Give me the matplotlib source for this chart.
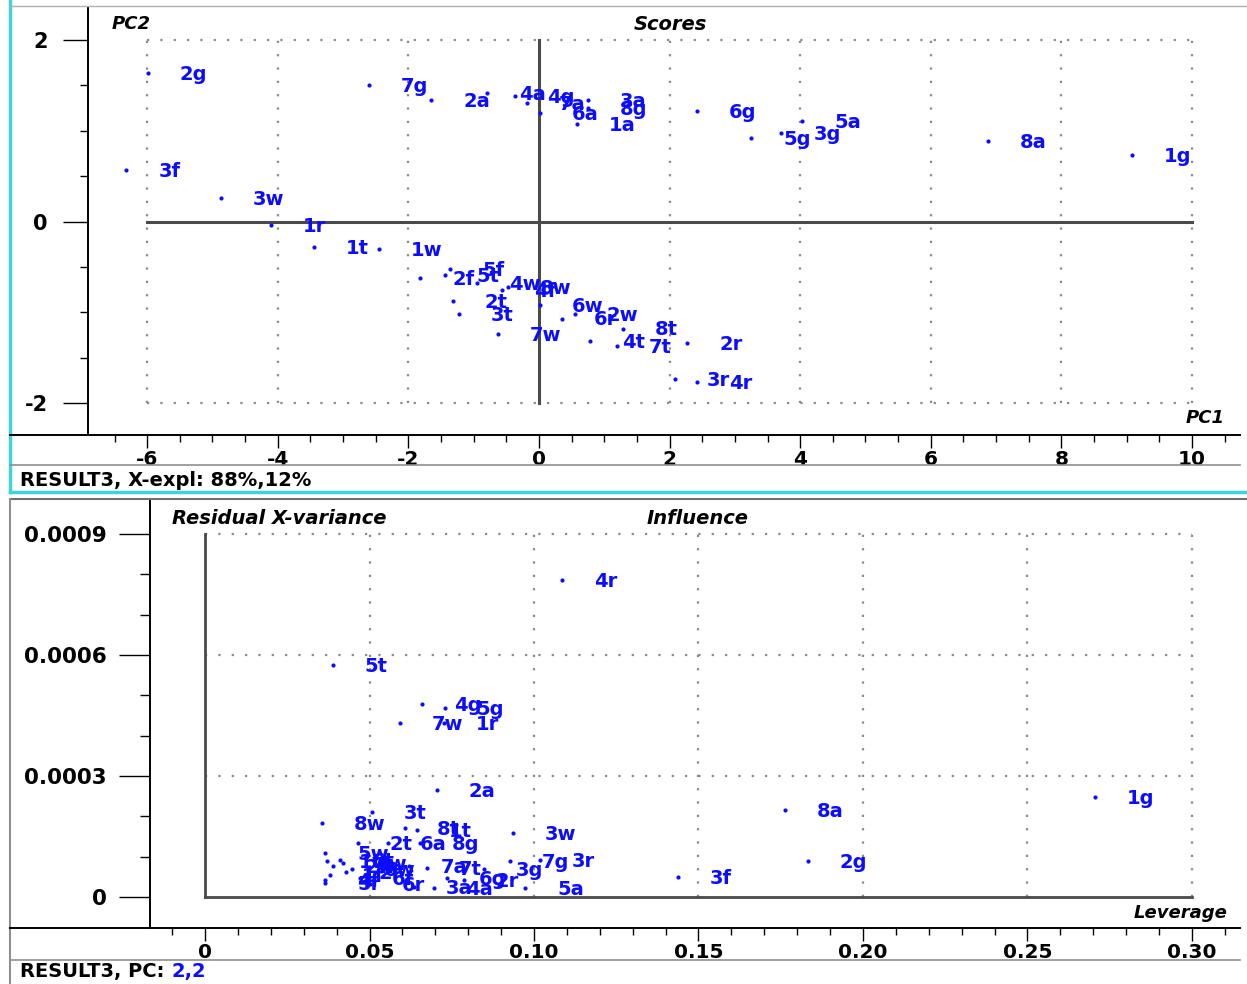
import matplotlib.pyplot as plt
from matplotlib.lines import Line2D
from matplotlib.ticker import MultipleLocator, FuncFormatter

W, H = 1247, 984
plt.rcParams['axes.unicode_minus'] = False
plt.rcParams['font.family'] = 'DejaVu Sans'

# Scores plot (PC1 vs PC2)
score_labels = ['2g', '3f', '3w', '1r', '1t', '1w', '7g', '2a', '4a', '4g',
                '7a', '6a', '1a', '3a', '8g', '6g', '5g', '3g', '5a', '8a',
                '1g', '2f', '5t', '5f', '2t', '3t', '4w', '8w', '4f', '7w',
                '6w', '6r', '2w', '8t', '4t', '7t', '2r', '3r', '4r']
pc1 = [-5.99, -6.32, -4.87, -4.10, -3.45, -2.45, -2.60, -1.65, -0.80, -0.37,
       -0.18, 0.02, 0.58, 0.75, 0.75, 2.42, 3.25, 3.71, 4.03, 6.88,
       9.08, -1.82, -1.44, -1.36, -1.32, -1.23, -0.95, -0.47, -0.57, -0.63,
       0.02, 0.35, 0.55, 1.29, 0.78, 1.19, 2.27, 2.08, 2.42]
pc2 = [1.64, 0.57, 0.26, -0.04, -0.28, -0.30, 1.50, 1.34, 1.42, 1.38,
       1.31, 1.20, 1.07, 1.34, 1.25, 1.22, 0.92, 0.97, 1.11, 0.89,
       0.73, -0.62, -0.59, -0.52, -0.88, -1.02, -0.68, -0.72, -0.76, -1.24,
       -0.92, -1.07, -1.02, -1.18, -1.32, -1.37, -1.34, -1.74, -1.77]

# Influence plot (leverage vs residual X-variance)
infl_labels = ['4r', '5t', '4g', '5g', '7w', '1r', '2a', '3t', '8w', '8t',
               '1t', '2t', '6a', '8g', '3w', '7g', '3r', '5a', '3g', '2r',
               '6g', '7a', '7t', '4a', '3a', '2g', '3f', '8a', '1g', '6r',
               '5r', '5w', '1w', '2w', '4w', '6w', '1f', '2f', '4f', '6f', '6t']
leverage = [0.1085, 0.0389, 0.0660, 0.0729, 0.0593, 0.0726, 0.0705, 0.0508, 0.0356, 0.0608,
            0.0644, 0.0465, 0.0556, 0.0653, 0.0936, 0.0927, 0.1018, 0.0973, 0.0848, 0.0787,
            0.0736, 0.0620, 0.0675, 0.0696, 0.0635, 0.1833, 0.1438, 0.1763, 0.2705, 0.0502,
            0.0365, 0.0365, 0.0371, 0.0389, 0.0419, 0.0447, 0.0380, 0.0429, 0.0365, 0.0471, 0.0410]
resvar = [0.000786, 0.000575, 0.000479, 0.000469, 0.000431, 0.000431, 0.000265, 0.000211, 0.000183, 0.000171,
          0.000166, 0.000134, 0.000134, 0.000134, 0.000159, 0.000089, 0.000092, 0.000022, 0.000069, 0.000042,
          0.000047, 0.000077, 0.000072, 0.000022, 0.000025, 0.000089, 0.000050, 0.000216, 0.000248, 0.000032,
          0.000035, 0.000109, 0.000089, 0.000077, 0.000084, 0.000069, 0.000054, 0.000062, 0.000042, 0.000047, 0.000092]

BLUE = '#0c0cff'
GRID = '#8a8a8a'
DOTS = (0, (1, 5))

fig = plt.figure(figsize=(W / 100, H / 100), dpi=100)


def box(x0, y0, x1, y1):
    return [x0 / W, 1 - y1 / H, (x1 - x0) / W, (y1 - y0) / H]


def fx(px):
    return px / W


def fy(py):
    return 1 - py / H


def fline(x0, y0, x1, y1, color, lw):
    fig.add_artist(Line2D([fx(x0), fx(x1)], [fy(y0), fy(y1)], color=color, lw=lw,
                          transform=fig.transFigure, zorder=5))


# window frames
fline(10, 0, 10, 492, '#3fd3df', 2.5)
fline(10, 492, 1247, 492, '#3fd3df', 2.5)
fline(10, 6, 1247, 6, '#b0b0b0', 1)
fline(10, 435, 1240, 435, 'black', 1.4)
fline(10, 465, 1240, 465, '#909090', 1.2)
fline(10, 499, 1247, 499, '#707070', 1.5)
fline(10, 499, 10, 984, '#909090', 1.5)
fline(10, 928, 1240, 928, 'black', 1.4)
fline(10, 960, 1240, 960, '#909090', 1.2)

# ---- Scores ----
ax1 = fig.add_axes(box(88, 8, 1240, 435))
ax1.set_xlim(-6.906, 10.735)
ax1.set_ylim(-2.353, 2.353)
for s in ['top', 'right', 'bottom']:
    ax1.spines[s].set_visible(False)
ax1.spines['left'].set_linewidth(1.4)
ax1.xaxis.set_major_locator(MultipleLocator(2))
ax1.xaxis.set_minor_locator(MultipleLocator(0.5))
ax1.yaxis.set_major_locator(MultipleLocator(2))
ax1.yaxis.set_minor_locator(MultipleLocator(0.5))
ax1.xaxis.set_major_formatter(FuncFormatter(lambda v, p: '%d' % round(v)))
ax1.yaxis.set_major_formatter(FuncFormatter(lambda v, p: '%d' % round(v)))
ax1.tick_params(axis='x', which='major', length=9, width=1, pad=2, labelsize=14.5)
ax1.tick_params(axis='x', which='minor', length=5, width=1)
ax1.tick_params(axis='y', which='major', length=18, width=1, pad=11, labelsize=15)
ax1.tick_params(axis='y', which='minor', length=6, width=1)
for t in ax1.get_xticklabels() + ax1.get_yticklabels():
    t.set_fontweight('bold')

ax1.vlines([-6, -4, -2, 2, 4, 6, 8, 10], -2, 2, colors=GRID, linestyles=DOTS, lw=1.6)
ax1.hlines([-2, 2], -6, 10, colors=GRID, linestyles=DOTS, lw=1.6)
ax1.plot([0, 0], [-2, 2], color='#4a4a4a', lw=2.2)
ax1.plot([-6, 10], [0, 0], color='#4a4a4a', lw=2.2)

ax1.scatter(pc1, pc2, s=9, color=BLUE, zorder=3, linewidths=0)
for lab, x, y in zip(score_labels, pc1, pc2):
    ax1.annotate(lab, (x, y), xytext=(23, -1), textcoords='offset points',
                 color=BLUE, fontsize=14, fontweight='bold', ha='left', va='center')

fig.text(fx(112), fy(24), 'PC2', style='italic', weight='bold', fontsize=13, va='center')
fig.text(fx(670), fy(24), 'Scores', style='italic', weight='bold', fontsize=14, va='center', ha='center')
fig.text(fx(1225), fy(418), 'PC1', style='italic', weight='bold', fontsize=13, va='center', ha='right')
fig.text(fx(20), fy(480), 'RESULT3, X-expl: 88%,12%', weight='bold', fontsize=14, va='center')

# ---- Influence ----
ax2 = fig.add_axes(box(150, 499, 1240, 928))
ax2.set_xlim(-0.01672, 0.3146)
ax2.set_ylim(-0.0000769, 0.000987)
for s in ['top', 'right', 'bottom']:
    ax2.spines[s].set_visible(False)
ax2.spines['left'].set_linewidth(1.4)
ax2.xaxis.set_major_locator(MultipleLocator(0.05))
ax2.xaxis.set_minor_locator(MultipleLocator(0.01))
ax2.yaxis.set_major_locator(MultipleLocator(0.0003))
ax2.yaxis.set_minor_locator(MultipleLocator(0.0001))
ax2.xaxis.set_major_formatter(FuncFormatter(lambda v, p: '0' if abs(v) < 1e-9 else '%.2f' % v))
ax2.yaxis.set_major_formatter(FuncFormatter(lambda v, p: '0' if abs(v) < 1e-9 else '%.4f' % v))
ax2.tick_params(axis='x', which='major', length=9, width=1, pad=2, labelsize=14.5)
ax2.tick_params(axis='x', which='minor', length=5, width=1)
ax2.tick_params(axis='y', which='major', length=22, width=1, pad=9, labelsize=15.5)
ax2.tick_params(axis='y', which='minor', length=7, width=1)
for t in ax2.get_xticklabels() + ax2.get_yticklabels():
    t.set_fontweight('bold')

ax2.vlines([0.05, 0.10, 0.15, 0.20, 0.25, 0.30], 0, 0.0009, colors=GRID, linestyles=DOTS, lw=1.6)
ax2.hlines([0.0003, 0.0006, 0.0009], 0, 0.30, colors=GRID, linestyles=DOTS, lw=1.6)
ax2.plot([0, 0], [0, 0.0009], color='#4a4a4a', lw=2.0)
ax2.plot([0, 0.30], [0, 0], color='#4a4a4a', lw=2.0)

ax2.scatter(leverage, resvar, s=9, color=BLUE, zorder=3, linewidths=0)
for lab, x, y in zip(infl_labels, leverage, resvar):
    ax2.annotate(lab, (x, y), xytext=(23, -1), textcoords='offset points',
                 color=BLUE, fontsize=14, fontweight='bold', ha='left', va='center')

fig.text(fx(172), fy(518), 'Residual X-variance', style='italic', weight='bold', fontsize=14, va='center')
fig.text(fx(698), fy(518), 'Influence', style='italic', weight='bold', fontsize=14, va='center', ha='center')
fig.text(fx(1227), fy(913), 'Leverage', style='italic', weight='bold', fontsize=13, va='center', ha='right')
t_pc = fig.text(fx(20), fy(972), 'RESULT3, PC: ', weight='bold', fontsize=14, va='center')
ax2.annotate('2,2', xy=(1, 0), xycoords=t_pc, va='bottom', ha='left',
             color=BLUE, weight='bold', fontsize=14, annotation_clip=False)

fig.savefig('out.png', dpi=100)
